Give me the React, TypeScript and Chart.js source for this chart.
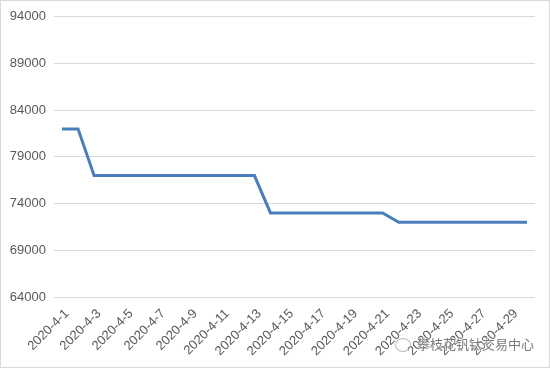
import React, { useEffect, useRef } from "react";
import { Chart, registerables } from "chart.js";

Chart.register(...registerables);

const days: string[] = [];
for (let d = 1; d <= 30; d++) days.push(`2020-4-${d}`);

const prices: number[] = [
  82000, 82000,
  77000, 77000, 77000, 77000, 77000, 77000, 77000, 77000, 77000, 77000, 77000,
  73000, 73000, 73000, 73000, 73000, 73000, 73000, 73000,
  72000, 72000, 72000, 72000, 72000, 72000, 72000, 72000, 72000,
];

const yMin = 64000;
const yMax = 94000;
const yStep = 5000;
const watermark = "攀枝花钒钛交易中心";

export default function App() {
  const ref = useRef<HTMLCanvasElement | null>(null);

  useEffect(() => {
    document.body.style.margin = "0";
    if (!ref.current) return;
    const chart = new Chart(ref.current, {
      type: "line",
      data: {
        labels: days,
        datasets: [
          {
            data: prices,
            borderColor: "#4a7ebb",
            borderWidth: 3,
            pointRadius: 0,
            tension: 0,
            fill: false,
          },
        ],
      },
      options: {
        animation: false,
        responsive: false,
        maintainAspectRatio: false,
        layout: { padding: { top: 7, right: 14, bottom: 0, left: 9 } },
        plugins: { legend: { display: false }, tooltip: { enabled: false } },
        scales: {
          x: {
            offset: true,
            grid: { display: false, drawTicks: false },
            border: { display: false },
            afterFit: (s: any) => {
              s.paddingLeft = 0;
              s.paddingRight = 0;
              s.height = 70;
            },
            ticks: {
              autoSkip: false,
              maxRotation: 45,
              minRotation: 45,
              padding: 9,
              labelOffset: 5,
              color: "#595959",
              font: { family: "Liberation Sans, Arial", size: 13 },
              callback: (_v: any, i: number) => (i % 2 === 0 ? days[i] : ""),
            },
          },
          y: {
            min: yMin,
            max: yMax,
            grid: { color: "#d9d9d9", lineWidth: 1, drawTicks: false },
            border: { display: false },
            afterFit: (s: any) => {
              s.width = 44;
            },
            ticks: {
              stepSize: yStep,
              padding: 8,
              color: "#595959",
              font: { family: "Liberation Sans, Arial", size: 13 },
              callback: (v: any) => String(v),
            },
          },
        },
      },
    });
    return () => chart.destroy();
  }, []);

  return (
    <div
      style={{
        position: "relative",
        width: 550,
        height: 368,
        boxSizing: "border-box",
        border: "1px solid #d9d9d9",
        background: "#fff",
      }}
    >
      <canvas ref={ref} width={548} height={366} style={{ display: "block" }} />
      <div
        style={{
          position: "absolute",
          left: 394,
          top: 333,
          fontFamily: "Noto Sans CJK SC",
          fontSize: 13,
          color: "#7a7a7a",
          whiteSpace: "nowrap",
          textShadow: "0 0 2px #fff, 0 0 2px #fff",
        }}
      >
        <span
          style={{
            display: "inline-block",
            width: 14,
            height: 12,
            borderRadius: "50%",
            border: "1px solid #bbb",
            marginRight: 6,
            verticalAlign: "middle",
          }}
        />
        {watermark}
      </div>
    </div>
  );
}
